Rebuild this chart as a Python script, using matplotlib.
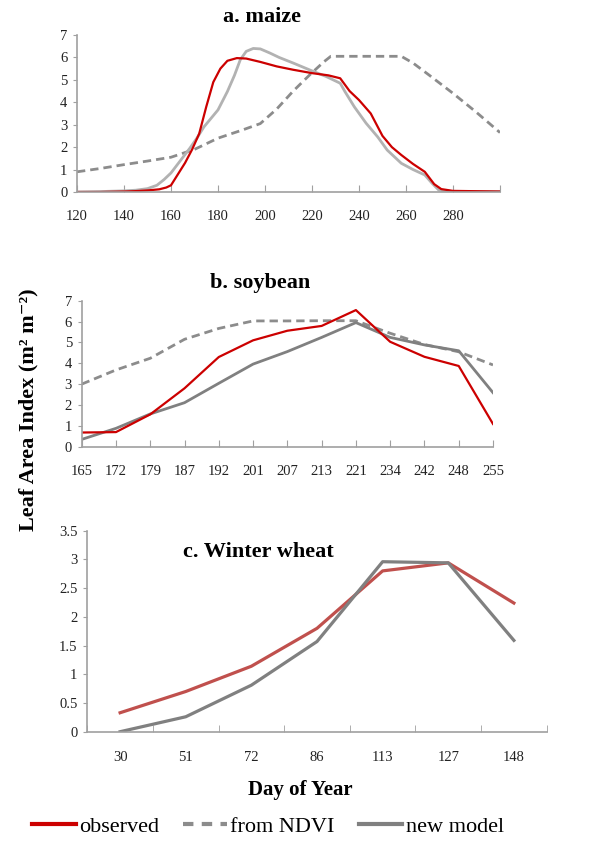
######################
# Leaf Area Index: observed vs NDVI vs new model
# three panels (maize, soybean, winter wheat) stacked
######################

import numpy as np
from matplotlib import pyplot as plt
from matplotlib.lines import Line2D
from matplotlib.ticker import FuncFormatter

######################
# data

# a. maize
maize_obs_day = [120, 130, 140, 145, 150, 155, 158, 160, 163, 166, 169, 172, 175, 178, 181,
                 184, 188, 192, 198, 205, 212, 220, 227, 232, 236, 240, 245, 250, 254, 258,
                 263, 268, 272, 275, 280, 300]
maize_obs = [0, 0, 0.02, 0.04, 0.07, 0.12, 0.2, 0.3, 0.8, 1.3, 1.9, 2.6, 3.8, 4.9, 5.5,
             5.85, 5.97, 5.95, 5.8, 5.6, 5.45, 5.3, 5.2, 5.07, 4.5, 4.1, 3.5, 2.5, 2.0, 1.65,
             1.25, 0.9, 0.35, 0.13, 0.05, 0.02]

maize_ndvi_day = [120, 130, 140, 150, 160, 170, 180, 190, 198, 205, 212, 219, 225, 228,
                  258, 263, 270, 280, 290, 300]
maize_ndvi = [0.9, 1.05, 1.22, 1.38, 1.55, 1.9, 2.4, 2.75, 3.05, 3.7, 4.5, 5.22, 5.8, 6.05,
              6.05, 5.75, 5.2, 4.4, 3.55, 2.65]

maize_mod_day = [120, 130, 140, 145, 150, 154, 157, 160, 164, 168, 171, 174, 180, 184, 187,
                 189.5, 192, 195, 198, 202, 206, 212, 220, 226, 232, 234, 238, 243, 248, 252,
                 258, 263, 268, 271, 274, 280, 300]
maize_mod = [0, 0.02, 0.05, 0.08, 0.15, 0.3, 0.55, 0.85, 1.4, 1.95, 2.4, 2.9, 3.66, 4.48, 5.2,
             5.9, 6.27, 6.4, 6.38, 6.2, 6.0, 5.75, 5.4, 5.15, 4.85, 4.48, 3.8, 3.07, 2.45, 1.87,
             1.28, 1.0, 0.76, 0.4, 0.08, 0.02, 0.02]

# b. soybean (categorical days)
soy_days = ['165', '172', '179', '187', '192', '201', '207', '213', '221', '234', '242', '248', '255']
soy_obs = [0.68, 0.7, 1.55, 2.8, 4.3, 5.1, 5.56, 5.79, 6.55, 5.03, 4.31, 3.87, 1.09]
soy_ndvi = [3.0, 3.68, 4.24, 5.15, 5.67, 6.03, 6.03, 6.04, 6.04, 5.44, 4.9, 4.55, 3.92]
soy_mod = [0.35, 0.88, 1.57, 2.11, 3.04, 3.96, 4.56, 5.24, 5.95, 5.24, 4.88, 4.6, 2.59]

# c. winter wheat (categorical days)
wheat_days = ['30', '51', '72', '86', '113', '127', '148']
wheat_obs = [0.33, 0.70, 1.14, 1.80, 2.80, 2.94, 2.24]
wheat_mod = [0.0, 0.26, 0.81, 1.57, 2.96, 2.94, 1.59]
######################

plt.rcParams['font.family'] = ['Liberation Serif', 'DejaVu Serif']

RED = '#CC0000'
RED_C = '#C0504D'
LGRAY = '#B2B2B2'
DGRAY = '#808080'
DASH = '#8C8C8C'
AXCOL = '#A0A0A0'
dash_style = (0, (3, 1.8))

fig = plt.figure(figsize=(5.89, 8.41), dpi=100)


def style_axes(ax, xpad=13):
    for s in ['top', 'right']:
        ax.spines[s].set_visible(False)
    for s in ['left', 'bottom']:
        ax.spines[s].set_color(AXCOL)
        ax.spines[s].set_linewidth(1.2)
    ax.tick_params(axis='y', direction='out', length=3, color=AXCOL, labelsize=10.5, pad=4,
                   labelcolor='#222222')
    ax.tick_params(axis='x', direction='in', length=5, color=AXCOL, labelsize=10.5, pad=xpad,
                   labelcolor='#222222')


# ---- a. maize
ax1 = fig.add_axes([77 / 589, 1 - 192 / 841, 423 / 589, 157 / 841])
ax1.plot(maize_ndvi_day, maize_ndvi, color=DASH, lw=2, linestyle=dash_style)
ax1.plot(maize_mod_day, maize_mod, color=LGRAY, lw=2)
ax1.plot(maize_obs_day, maize_obs, color=RED, lw=1.6)
ax1.set_xlim(120, 300)
ax1.set_ylim(0, 7)
ax1.set_xticks(range(120, 301, 20))
ax1.set_xticklabels([str(d) for d in range(120, 281, 20)] + [''])
ax1.set_yticks(range(0, 8))
style_axes(ax1)
fig.text(262 / 589, 1 - 17 / 841, 'a. maize', ha='center', va='center',
         fontsize=16, fontweight='bold')

# ---- b. soybean
ax2 = fig.add_axes([81.7 / 589, 1 - 446.7 / 841, 411.3 / 589, 146 / 841])
xb = np.arange(len(soy_days))
ax2.plot(xb, soy_ndvi, color=DASH, lw=2, linestyle=dash_style)
ax2.plot(xb, soy_mod, color=DGRAY, lw=2)
ax2.plot(xb, soy_obs, color=RED, lw=1.6)
ax2.set_xlim(0, len(soy_days) - 1)
ax2.set_ylim(0, 7)
ax2.set_xticks(xb)
ax2.set_xticklabels(soy_days)
ax2.set_yticks(range(0, 8))
style_axes(ax2)
fig.text(260 / 589, 1 - 283 / 841, 'b. soybean', ha='center', va='center',
         fontsize=16, fontweight='bold')

# ---- c. winter wheat
ax3 = fig.add_axes([87.3 / 589, 1 - 731.7 / 841, 459.4 / 589, 201 / 841])
xc = np.arange(len(wheat_days))
ax3.plot(xc, wheat_obs, color=RED_C, lw=2.3)
ax3.plot(xc, wheat_mod, color=DGRAY, lw=2.3)
ax3.set_xlim(-0.5, len(wheat_days) - 0.5)
ax3.set_ylim(0, 3.5)
ax3.set_xticks(xc)
ax3.set_xticklabels(wheat_days)
ax3.set_xticks(np.arange(-0.5, len(wheat_days), 1), minor=True)
ax3.set_yticks(np.arange(0, 3.51, 0.5))
ax3.yaxis.set_major_formatter(FuncFormatter(lambda v, p: '%g' % v))
style_axes(ax3)
ax3.tick_params(axis='x', which='major', length=0, pad=14)
ax3.tick_params(axis='x', which='minor', direction='in', length=5, color=AXCOL)
fig.text(258 / 589, 1 - 552 / 841, 'c. Winter wheat', ha='center', va='center',
         fontsize=16, fontweight='bold')

# shared labels
fig.text(28 / 589, 1 - 410 / 841, 'Leaf Area Index (m\u00b2 m\u207b\u00b2)',
         rotation=90, ha='center', va='center', fontsize=16, fontweight='bold')
fig.text(300 / 589, 1 - 790 / 841, 'Day of Year', ha='center', va='center',
         fontsize=15, fontweight='bold')

# legend
handles = [Line2D([], [], color=RED, lw=3),
           Line2D([], [], color=DASH, lw=3, linestyle=(0, (2.5, 2))),
           Line2D([], [], color=DGRAY, lw=3)]
fig.legend(handles, ['observed', 'from NDVI', 'new model'], loc='center',
           bbox_to_anchor=(268 / 589, 1 - 827 / 841), ncol=3, frameon=False,
           fontsize=16, handlelength=1.95, handletextpad=0.15, columnspacing=1.1,
           borderpad=0)

plt.savefig('out.png', dpi=100)
